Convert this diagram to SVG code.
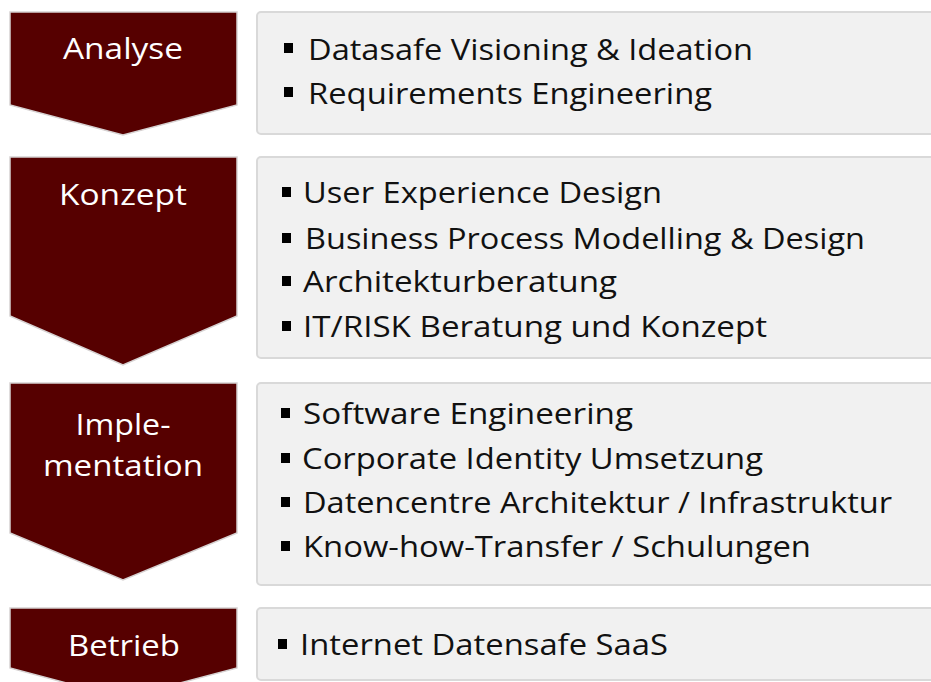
<svg xmlns="http://www.w3.org/2000/svg" width="931" height="682" viewBox="0 0 931 682">
<style>
.chev{fill:#560000;stroke:#d6d2d2;stroke-width:1.5}
.box{fill:#f1f1f1;stroke:#d9d9d9;stroke-width:2}
.lbl{font-family:"Open Sans","Noto Sans",sans-serif;font-size:29px;fill:#ffffff;text-anchor:middle}
.itm{font-family:"Open Sans","Noto Sans",sans-serif;font-size:30px;fill:#111111}
.blt{fill:#000000}
</style>
<rect width="931" height="682" fill="#ffffff"/>
<g id="analyse">
<polygon class="chev" points="10,12 237,12 237,105 123,135 10,105"/>
<text class="lbl" x="123" y="59" textLength="120" lengthAdjust="spacingAndGlyphs">Analyse</text>
</g>
<g id="analyse-items">
<rect class="box" x="257" y="12" width="690" height="122" rx="4"/>
<rect class="blt" x="284" y="43" width="9" height="10"/>
<text class="itm" x="308" y="60" textLength="445" lengthAdjust="spacingAndGlyphs">Datasafe Visioning &amp; Ideation</text>
<rect class="blt" x="284" y="87" width="9" height="10"/>
<text class="itm" x="308" y="104" textLength="404" lengthAdjust="spacingAndGlyphs">Requirements Engineering</text>
</g>
<g id="konzept">
<polygon class="chev" points="10,157 237,157 237,316 123,365 10,316"/>
<text class="lbl" x="123" y="205" textLength="128" lengthAdjust="spacingAndGlyphs">Konzept</text>
</g>
<g id="konzept-items">
<rect class="box" x="257" y="157" width="690" height="201" rx="4"/>
<rect class="blt" x="282" y="187" width="9" height="10"/>
<text class="itm" x="303" y="203" textLength="359" lengthAdjust="spacingAndGlyphs">User Experience Design</text>
<rect class="blt" x="282" y="233" width="9" height="10"/>
<text class="itm" x="305" y="249" textLength="560" lengthAdjust="spacingAndGlyphs">Business Process Modelling &amp; Design</text>
<rect class="blt" x="282" y="276" width="9" height="10"/>
<text class="itm" x="303" y="292" textLength="314" lengthAdjust="spacingAndGlyphs">Architekturberatung</text>
<rect class="blt" x="282" y="321" width="9" height="10"/>
<text class="itm" x="303" y="337" textLength="464" lengthAdjust="spacingAndGlyphs">IT/RISK Beratung und Konzept</text>
</g>
<g id="implementation">
<polygon class="chev" points="10,383 237,383 237,533 123,580 10,533"/>
<text class="lbl" x="123" y="435" textLength="95" lengthAdjust="spacingAndGlyphs">Imple-</text>
<text class="lbl" x="123" y="476" textLength="160" lengthAdjust="spacingAndGlyphs">mentation</text>
</g>
<g id="implementation-items">
<rect class="box" x="257" y="383" width="690" height="202" rx="4"/>
<rect class="blt" x="281" y="408" width="9" height="10"/>
<text class="itm" x="303" y="424" textLength="330" lengthAdjust="spacingAndGlyphs">Software Engineering</text>
<rect class="blt" x="281" y="453" width="9" height="10"/>
<text class="itm" x="302" y="469" textLength="461" lengthAdjust="spacingAndGlyphs">Corporate Identity Umsetzung</text>
<rect class="blt" x="281" y="497" width="9" height="10"/>
<text class="itm" x="303" y="513" textLength="589" lengthAdjust="spacingAndGlyphs">Datencentre Architektur / Infrastruktur</text>
<rect class="blt" x="281" y="541" width="9" height="10"/>
<text class="itm" x="303" y="557" textLength="508" lengthAdjust="spacingAndGlyphs">Know-how-Transfer / Schulungen</text>
</g>
<g id="betrieb">
<polygon class="chev" points="10,608 237,608 237,668 123,698 10,668"/>
<text class="lbl" x="124" y="656" textLength="112" lengthAdjust="spacingAndGlyphs">Betrieb</text>
</g>
<g id="betrieb-items">
<rect class="box" x="257" y="608" width="690" height="72" rx="4"/>
<rect class="blt" x="278" y="639" width="9" height="10"/>
<text class="itm" x="300" y="655" textLength="368" lengthAdjust="spacingAndGlyphs">Internet Datensafe SaaS</text>
</g>
<g id="connectors"></g>
</svg>
